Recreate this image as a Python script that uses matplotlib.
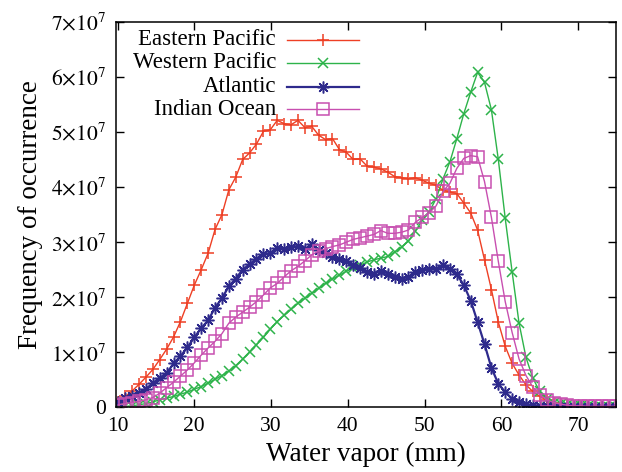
import matplotlib
matplotlib.use("Agg")
import matplotlib.pyplot as plt
import numpy as np

plt.rcParams['font.family'] = ['Liberation Serif', 'DejaVu Serif']
plt.rcParams['mathtext.fontset'] = 'stix'

# water vapour bin centres (mm), step 0.9
vapor = np.round(10.1 + 0.9 * np.arange(73), 1)

# frequencies in units of 1e7
eastern = [0.10, 0.20, 0.30, 0.42, 0.55, 0.69, 0.87, 1.06, 1.28, 1.56,
           1.89, 2.22, 2.50, 2.80, 3.23, 3.50, 3.95, 4.18, 4.50, 4.62,
           4.78, 5.01, 5.04, 5.21, 5.15, 5.13, 5.21, 5.08, 5.10, 4.94,
           4.86, 4.88, 4.68, 4.63, 4.50, 4.51, 4.38, 4.36, 4.33, 4.27,
           4.19, 4.17, 4.15, 4.17, 4.12, 4.07, 4.03, 3.94, 3.91, 3.88,
           3.71, 3.53, 3.22, 2.68, 2.14, 1.55, 1.11, 0.80, 0.59, 0.41,
           0.29, 0.20, 0.13, 0.09, 0.06, 0.04, 0.03, 0.02, 0.02, 0.01,
           0.01, 0.01, 0.01]
western = [0.01, 0.02, 0.03, 0.05, 0.07, 0.10, 0.14, 0.17, 0.20, 0.24,
           0.28, 0.33, 0.38, 0.44, 0.51, 0.58, 0.66, 0.76, 0.88, 1.01,
           1.14, 1.27, 1.42, 1.56, 1.67, 1.78, 1.89, 1.98, 2.07, 2.16,
           2.25, 2.33, 2.40, 2.47, 2.53, 2.58, 2.64, 2.68, 2.71, 2.74,
           2.82, 2.91, 3.02, 3.20, 3.40, 3.55, 3.79, 4.15, 4.46, 4.88,
           5.33, 5.72, 6.08, 5.90, 5.40, 4.50, 3.43, 2.46, 1.53, 0.91,
           0.53, 0.29, 0.16, 0.09, 0.06, 0.04, 0.03, 0.02, 0.02, 0.01,
           0.01, 0.01, 0.01]
atlantic = [0.10, 0.17, 0.21, 0.27, 0.34, 0.44, 0.54, 0.62, 0.80, 0.93,
            1.09, 1.27, 1.44, 1.58, 1.81, 1.98, 2.20, 2.34, 2.50, 2.60,
            2.70, 2.78, 2.80, 2.90, 2.88, 2.91, 2.93, 2.87, 2.96, 2.85,
            2.80, 2.73, 2.69, 2.65, 2.59, 2.53, 2.45, 2.43, 2.48, 2.43,
            2.37, 2.34, 2.37, 2.46, 2.49, 2.52, 2.52, 2.58, 2.52, 2.42,
            2.22, 1.94, 1.55, 1.15, 0.72, 0.43, 0.28, 0.16, 0.10, 0.06,
            0.04, 0.03, 0.02, 0.01, 0.01, 0.01, 0.01, 0.00, 0.00, 0.00,
            0.00, 0.00, 0.00]
indian = [0.05, 0.07, 0.09, 0.11, 0.14, 0.18, 0.26, 0.36, 0.46, 0.57,
          0.68, 0.81, 0.95, 1.08, 1.20, 1.34, 1.53, 1.64, 1.73, 1.82,
          1.92, 2.04, 2.17, 2.25, 2.37, 2.48, 2.56, 2.66, 2.77, 2.84,
          2.88, 2.92, 2.95, 3.00, 3.05, 3.08, 3.11, 3.14, 3.21, 3.16,
          3.16, 3.18, 3.22, 3.36, 3.45, 3.53, 3.66, 3.92, 4.07, 4.34,
          4.52, 4.57, 4.55, 4.10, 3.45, 2.65, 1.92, 1.36, 0.88, 0.58,
          0.37, 0.23, 0.14, 0.09, 0.06, 0.04, 0.03, 0.03, 0.02, 0.02,
          0.02, 0.02, 0.02]

labels = ['Eastern Pacific', 'Western Pacific', 'Atlantic', 'Indian Ocean']
colors = ['#EE3F24', '#2DB34A', '#2E2A8C', '#C84FB0']
markers = ['+', 'x', (8, 2, 0), 's']
msizes = [8.5, 7.5, 8.5, 9]
lwidths = [1.0, 1.0, 1.6, 1.0]
series = [eastern, western, atlantic, indian]

fig = plt.figure(figsize=(6.22, 4.72), dpi=100)
ax = fig.add_axes([0.1865, 0.1367, 0.8035, 0.8173])

for name, vals, c, m, ms, lw in zip(labels, series, colors, markers, msizes, lwidths):
    ax.plot(vapor, np.array(vals) * 1e7, color=c, lw=lw, marker=m, ms=ms,
            mfc='none', mec=c, mew=1.1, label=name)

ax.set_xlim(9.8, 74.9)
ax.set_ylim(0, 7e7)
ax.set_xticks([10, 20, 30, 40, 50, 60, 70])
yt = np.arange(8) * 1e7
ax.set_yticks(yt)
ax.set_yticklabels(['0'] + [r'$%d{\times}10^7$' % i for i in range(1, 8)])
ax.tick_params(direction='in', length=6, width=1, top=True, right=True,
               labelsize=15.5, pad=7)
for s in ax.spines.values():
    s.set_linewidth(1.1)

ax.set_xlabel('Water vapor (mm)', fontsize=19.5, labelpad=4)
ax.set_ylabel('Frequency of occurrence', fontsize=19.5, labelpad=6)

# gnuplot-style key: right-justified text, sample line with marker
rows = [0.9526, 0.8937, 0.8315, 0.7737]
for name, c, m, ms, lw, yy in zip(labels, colors, markers, msizes, lwidths, rows):
    ax.text(0.32, yy, name, transform=ax.transAxes, ha='right', va='center',
            fontsize=16.5)
    ax.plot([0.342, 0.486], [yy, yy], transform=ax.transAxes, color=c, lw=lw,
            clip_on=False)
    ax.plot([0.414], [yy], transform=ax.transAxes, color=c, marker=m, ms=ms,
            mfc='none', mec=c, mew=1.1, clip_on=False)

fig.savefig('out.png', dpi=100)
